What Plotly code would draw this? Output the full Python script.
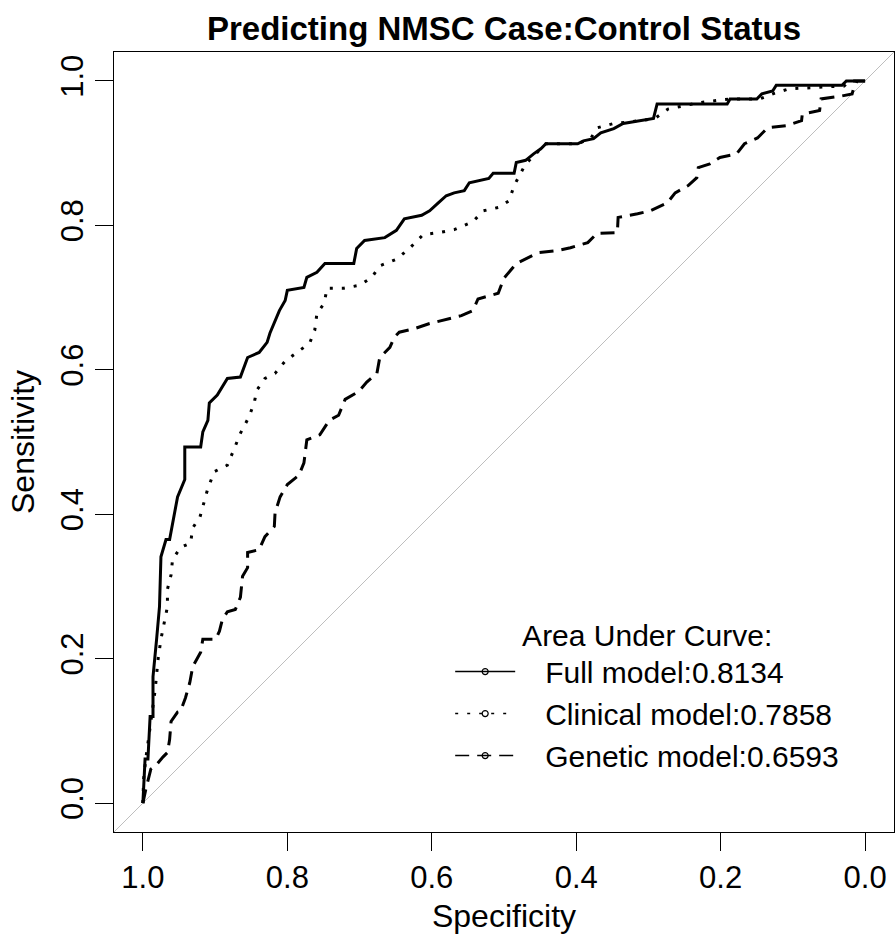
import plotly.graph_objects as go

# ---- data ----
full_spec = [1.000, 0.997, 0.993, 0.990, 0.986, 0.986, 0.981, 0.977, 0.975, 0.968, 0.963, 0.955, 0.952,
             0.942, 0.942, 0.920, 0.917, 0.910, 0.908, 0.897, 0.883, 0.865, 0.855, 0.839, 0.828, 0.824,
             0.817, 0.811, 0.803, 0.800, 0.777, 0.773, 0.759, 0.748, 0.708, 0.704, 0.693, 0.665, 0.649,
             0.638, 0.614, 0.603, 0.591, 0.580, 0.569, 0.555, 0.548, 0.521, 0.515, 0.486, 0.483, 0.470,
             0.459, 0.449, 0.442, 0.398, 0.390, 0.376, 0.366, 0.348, 0.335, 0.314, 0.293, 0.288, 0.191,
             0.187, 0.150, 0.143, 0.128, 0.123, 0.032, 0.026, 0.000]
full_sens = [0.000, 0.061, 0.061, 0.120, 0.120, 0.175, 0.227, 0.272, 0.341, 0.365, 0.365, 0.410, 0.424,
             0.448, 0.493, 0.493, 0.514, 0.530, 0.554, 0.565, 0.588, 0.590, 0.617, 0.624, 0.638, 0.651,
             0.669, 0.682, 0.696, 0.710, 0.714, 0.728, 0.735, 0.747, 0.747, 0.768, 0.779, 0.783, 0.793,
             0.809, 0.814, 0.820, 0.831, 0.841, 0.845, 0.848, 0.859, 0.865, 0.872, 0.872, 0.887, 0.890,
             0.899, 0.906, 0.913, 0.913, 0.917, 0.920, 0.928, 0.934, 0.941, 0.945, 0.948, 0.968, 0.968,
             0.975, 0.975, 0.982, 0.986, 0.994, 0.994, 1.000, 1.000]

clin_spec = [1.000, 0.999, 0.996, 0.992, 0.988, 0.983, 0.979, 0.975, 0.970, 0.966, 0.966, 0.961, 0.959,
             0.948, 0.934, 0.931, 0.921, 0.915, 0.910, 0.901, 0.883, 0.873, 0.865, 0.853, 0.846, 0.842,
             0.831, 0.817, 0.803, 0.784, 0.769, 0.762, 0.759, 0.749, 0.745, 0.722, 0.700, 0.683, 0.672,
             0.649, 0.631, 0.612, 0.590, 0.569, 0.543, 0.529, 0.507, 0.493, 0.486, 0.477, 0.470, 0.459,
             0.449, 0.442, 0.398, 0.380, 0.371, 0.348, 0.311, 0.291, 0.273, 0.229, 0.187, 0.146, 0.125,
             0.105, 0.029, 0.022, 0.000]
clin_sens = [0.000, 0.033, 0.061, 0.088, 0.120, 0.157, 0.199, 0.227, 0.250, 0.272, 0.296, 0.316, 0.337,
             0.354, 0.360, 0.381, 0.396, 0.416, 0.436, 0.459, 0.468, 0.492, 0.512, 0.535, 0.554, 0.572,
             0.588, 0.595, 0.612, 0.626, 0.637, 0.655, 0.678, 0.692, 0.713, 0.713, 0.717, 0.728, 0.744,
             0.753, 0.768, 0.787, 0.790, 0.794, 0.805, 0.820, 0.825, 0.834, 0.855, 0.872, 0.885, 0.896,
             0.906, 0.913, 0.913, 0.920, 0.935, 0.941, 0.945, 0.948, 0.961, 0.970, 0.975, 0.975, 0.983,
             0.989, 0.993, 1.000, 1.000]

gen_spec = [1.000, 0.996, 0.989, 0.983, 0.972, 0.966, 0.963, 0.961, 0.952, 0.948, 0.941, 0.935, 0.931,
            0.920, 0.917, 0.899, 0.894, 0.890, 0.883, 0.872, 0.865, 0.862, 0.855, 0.855, 0.839, 0.831,
            0.818, 0.817, 0.810, 0.800, 0.789, 0.784, 0.777, 0.773, 0.755, 0.742, 0.729, 0.720, 0.701,
            0.690, 0.676, 0.672, 0.658, 0.652, 0.645, 0.624, 0.603, 0.584, 0.559, 0.543, 0.536, 0.508,
            0.500, 0.483, 0.453, 0.426, 0.408, 0.384, 0.371, 0.343, 0.342, 0.315, 0.298, 0.274, 0.263,
            0.245, 0.233, 0.231, 0.215, 0.201, 0.178, 0.167, 0.149, 0.135, 0.109, 0.088, 0.087, 0.063,
            0.061, 0.033, 0.018, 0.015, 0.011, 0.000]
gen_sens = [0.000, 0.019, 0.047, 0.051, 0.064, 0.070, 0.088, 0.113, 0.126, 0.127, 0.146, 0.167, 0.189,
            0.209, 0.227, 0.227, 0.238, 0.254, 0.265, 0.268, 0.285, 0.314, 0.326, 0.347, 0.351, 0.369,
            0.383, 0.402, 0.424, 0.441, 0.450, 0.454, 0.471, 0.503, 0.510, 0.530, 0.537, 0.559, 0.570,
            0.583, 0.595, 0.617, 0.631, 0.645, 0.652, 0.657, 0.664, 0.669, 0.675, 0.682, 0.698, 0.706,
            0.727, 0.747, 0.762, 0.765, 0.769, 0.776, 0.789, 0.790, 0.811, 0.816, 0.820, 0.831, 0.845,
            0.855, 0.866, 0.880, 0.885, 0.894, 0.899, 0.913, 0.921, 0.935, 0.938, 0.945, 0.954, 0.959,
            0.975, 0.979, 0.982, 0.993, 1.000, 1.000]

series_names = ["Full model:0.8134", "Clinical model:0.7858", "Genetic model:0.6593"]
legend_title = "Area Under Curve:"
tick_vals = [1.0, 0.8, 0.6, 0.4, 0.2, 0.0]
tick_text = ["1.0", "0.8", "0.6", "0.4", "0.2", "0.0"]

x_range = [1.04, -0.04]
y_range = [-0.04, 1.04]

FONT = "Liberation Sans, Arial, sans-serif"
NB = "\u00a0" * 3  # gap between legend sample and label

fig = go.Figure()

# chance diagonal (sens = 1 - spec), spanning the axis range
fig.add_trace(go.Scatter(x=x_range, y=[1 - v for v in x_range], mode="lines",
                         line=dict(color="#bebebe", width=1), showlegend=False, hoverinfo="skip"))

dashes = ["solid", "3px,9px", "14px,8px"]
data = [(full_spec, full_sens), (clin_spec, clin_sens), (gen_spec, gen_sens)]

for (xs, ys), dsh in zip(data, dashes):
    fig.add_trace(go.Scatter(x=xs, y=ys, mode="lines", line=dict(color="black", width=3, dash=dsh),
                             showlegend=False, hoverinfo="skip"))

for i, (dsh, name) in enumerate(zip(dashes, series_names)):
    fig.add_trace(go.Scatter(x=[None], y=[None], mode="lines+markers", name=NB + name, legendgroup=f"g{i}",
                             line=dict(color="black", width=1.5, dash=dsh),
                             marker=dict(symbol="circle-open", size=6, color="black", line=dict(width=1.2))))

fig.update_layout(
    width=895, height=939,
    margin=dict(l=114, r=1, t=52, b=107, autoexpand=False),
    paper_bgcolor="white", plot_bgcolor="white",
    font=dict(family=FONT, size=31, color="black"),
    title=dict(text="<b>Predicting NMSC Case:Control Status</b>", xref="paper", x=0.5, xanchor="center",
               yref="container", y=1 - 28 / 939, yanchor="middle", font=dict(size=33, family=FONT)),
    showlegend=True,
    legend=dict(x=0.431, y=0.289, xanchor="left", yanchor="top", bgcolor="rgba(0,0,0,0)",
                font=dict(size=30, family=FONT), itemwidth=60,
                title=dict(text=legend_title, side="top center", font=dict(size=30, family=FONT)),
                traceorder="grouped", tracegroupgap=0),
)

fig.update_xaxes(range=x_range, tickvals=tick_vals, ticktext=tick_text, ticks="outside", ticklen=18,
                 tickwidth=1, tickcolor="black", showline=True, linecolor="black", linewidth=1, mirror=True,
                 showgrid=False, zeroline=False, tickfont=dict(size=31), automargin=False,
                 title=dict(text="Specificity", font=dict(size=32), standoff=10))
fig.update_yaxes(range=y_range, tickvals=tick_vals, ticktext=tick_text, ticks="outside", ticklen=18,
                 tickwidth=1, tickcolor="black", showline=True, linecolor="black", linewidth=1, mirror=True,
                 showgrid=False, zeroline=False, tickangle=-90, tickfont=dict(size=31), automargin=False,
                 title=dict(text="Sensitivity", font=dict(size=32), standoff=10))

fig.write_html("out.html", config={"displayModeBar": False},
               post_script="document.body.style.margin='0';")
